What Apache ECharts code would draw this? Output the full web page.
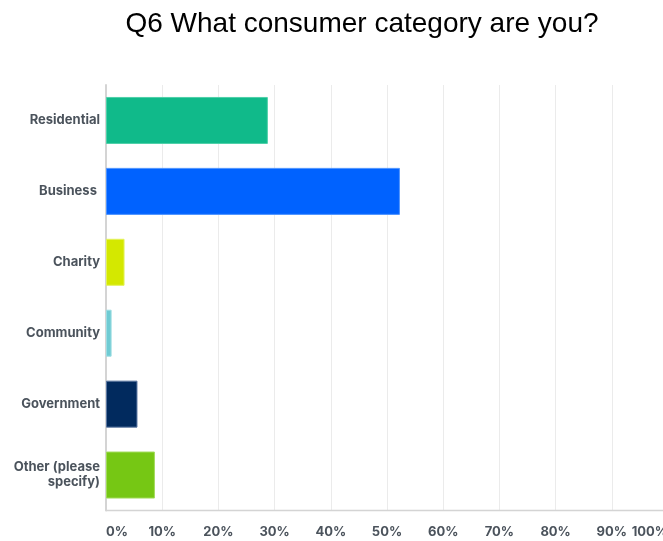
<!DOCTYPE html>
<html><head><meta charset="utf-8">
<script src="https://cdn.jsdelivr.net/npm/echarts@6/dist/echarts.min.js"></script>
<style>html,body{margin:0;padding:0;background:#fff}#c{width:663px;height:541px}</style>
</head><body><div id="c"></div>
<script>
const categories = ["Residential", "Business ", "Charity", "Community", "Government", "Other (please\nspecify)"];
const values = [28.8, 52.3, 3.3, 1.0, 5.6, 8.7];
const barColors = ["#10BA8A", "#0062FF", "#D4E800", "#6FCBD3", "#012A5E", "#76C714"];
const borderColors = ["#4fd0a9", "#4d93ff", "#e3f25a", "#9edde2", "#5a76a0", "#a1db5a"];
const tickLabels = ["0%", "10%", "20%", "30%", "40%", "50%", "60%", "70%", "80%", "90%", "100%"];

const chart = echarts.init(document.getElementById('c'), null, {renderer: 'canvas'});
chart.setOption({
  animation: false,
  title: {
    text: "Q6 What consumer category are you?",
    left: 357, top: 5, textAlign: 'center',
    textStyle: {fontFamily: "Liberation Sans", fontSize: 28, fontWeight: 'normal', color: '#000'}
  },
  grid: {left: 106, width: 562, top: 85, bottom: 30.5, containLabel: false, outerBoundsMode: 'none'},
  xAxis: {
    type: 'value', min: 0, max: 100, interval: 10,
    axisLine: {show: false},
    axisTick: {show: false},
    splitLine: {show: true, lineStyle: {color: '#ebebeb', width: 1}},
    axisLabel: {
      margin: 15, alignMaxLabel: 'right', alignMinLabel: 'left',
      formatter: v => tickLabels[Math.round(v / 10)],
      fontFamily: "Inter", fontSize: 13, fontWeight: 700, color: '#4b535c'
    }
  },
  yAxis: {
    type: 'category', data: categories, inverse: true,
    axisLine: {show: true, lineStyle: {color: '#d4d4d4', width: 2}},
    axisTick: {show: false},
    axisLabel: {
      margin: 6, fontFamily: "Inter", fontSize: 13, fontWeight: 700, color: '#4b535c',
      lineHeight: 15, align: 'right'
    }
  },
  graphic: [{
    type: 'line', shape: {x1: 106, y1: 510.5, x2: 663, y2: 510.5},
    style: {stroke: '#d4d4d4', lineWidth: 1.5}, z: 10
  }],
  series: [{
    type: 'bar', barWidth: 47,
    data: values.map((v, i) => ({value: v, itemStyle: {color: barColors[i], borderColor: borderColors[i], borderWidth: 1}})),
    z: 5
  }]
});
</script></body></html>
